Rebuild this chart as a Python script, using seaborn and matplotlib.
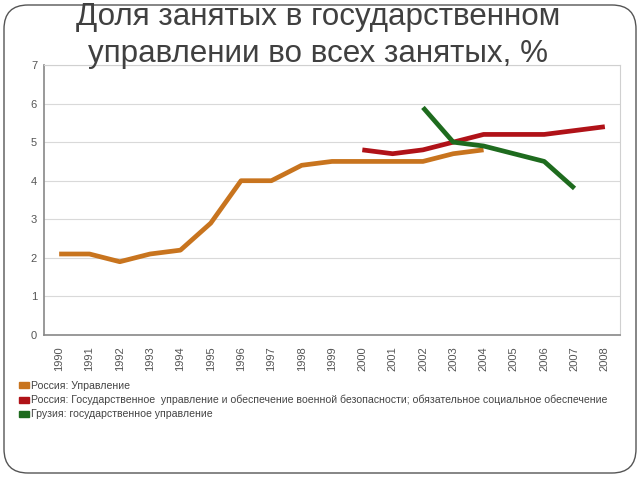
import numpy as np
import pandas as pd
import matplotlib
matplotlib.use("Agg")
import matplotlib.pyplot as plt
import seaborn as sns
from matplotlib.patches import FancyBboxPatch, Patch
from matplotlib.transforms import IdentityTransform

years = list(range(1990, 2009))
russia_mgmt = [2.1, 2.1, 1.9, 2.1, 2.2, 2.9, 4.0, 4.0, 4.4, 4.5, 4.5, 4.5, 4.5, 4.7, 4.8,
               np.nan, np.nan, np.nan, np.nan]
russia_state = [np.nan] * 10 + [4.8, 4.7, 4.8, 5.0, 5.2, 5.2, 5.2, 5.3, 5.4]
georgia_state = [np.nan] * 12 + [5.9, 5.0, 4.9, 4.7, 4.5, 3.8, np.nan]

series_names = [
    "Россия: Управление",
    "Россия: Государственное  управление и обеспечение военной безопасности; обязательное социальное обеспечение",
    "Грузия: государственное управление",
]
colors = ["#C8741E", "#B01218", "#1E6B1E"]
title_lines = ["Доля занятых в государственном", "управлении во всех занятых, %"]

rows = []
for name, vals in zip(series_names, [russia_mgmt, russia_state, georgia_state]):
    for y, v in zip(years, vals):
        rows.append({"year": y, "value": v, "series": name})
df = pd.DataFrame(rows)

sns.set_theme(style="white")
plt.rcParams["font.family"] = ["Liberation Sans", "DejaVu Sans"]

fig = plt.figure(figsize=(6.4, 4.8), dpi=100)
fig.patch.set_facecolor("white")
ax = fig.add_axes([44 / 640, 1 - 335 / 480, 576 / 640, 270 / 480])

for name, col in zip(series_names, colors):
    sub = df[df["series"] == name].dropna()
    sns.lineplot(data=sub, x="year", y="value", color=col, linewidth=3.4, ax=ax,
                 legend=False, solid_capstyle="butt")

ax.set_xlim(1989.5, 2008.5)
ax.set_ylim(0, 7)
ax.set_yticks(range(0, 8))
ax.set_xticks(years)
ax.set_xticklabels([str(y) for y in years], rotation=90, fontsize=8, color="#555555")
ax.set_xticks(np.arange(1989.5, 2009, 1), minor=True)
ax.tick_params(axis="x", which="major", length=0, pad=8)
ax.tick_params(axis="x", which="minor", length=4, color="#888888", direction="out")
ax.tick_params(axis="y", which="major", length=3, color="#888888", labelsize=8,
               labelcolor="#555555", pad=2)
ax.set_xlabel("")
ax.set_ylabel("")
ax.grid(axis="y", color="#D9D9D9", linewidth=0.8)
ax.set_axisbelow(True)
for side in ["top", "right"]:
    ax.spines[side].set_color("#D0D0D0")
    ax.spines[side].set_linewidth(0.8)
for side in ["left", "bottom"]:
    ax.spines[side].set_color("#888888")
    ax.spines[side].set_linewidth(1.2)

handles = [Patch(facecolor=c, edgecolor=c) for c in colors]
fig.legend(handles, series_names, loc="upper left", bbox_to_anchor=(19 / 640, 1 - 381 / 480),
           frameon=False, fontsize=7.6, labelcolor="#444444", handlelength=0.9,
           handleheight=0.45, handletextpad=0.25, labelspacing=0.38, borderaxespad=0,
           borderpad=0)

fig.text(318 / 640, 1 - 25 / 480, title_lines[0], ha="center", va="baseline", fontsize=22.6,
         color="#404040")
fig.text(318 / 640, 1 - 62 / 480, title_lines[1], ha="center", va="baseline", fontsize=22.6,
         color="#404040")

frame = FancyBboxPatch((4, 7), 632, 468, boxstyle="round,pad=0,rounding_size=24",
                       transform=IdentityTransform(), facecolor="none",
                       edgecolor="#555555", linewidth=1.0)
fig.add_artist(frame)

fig.savefig("out.png", dpi=100)
